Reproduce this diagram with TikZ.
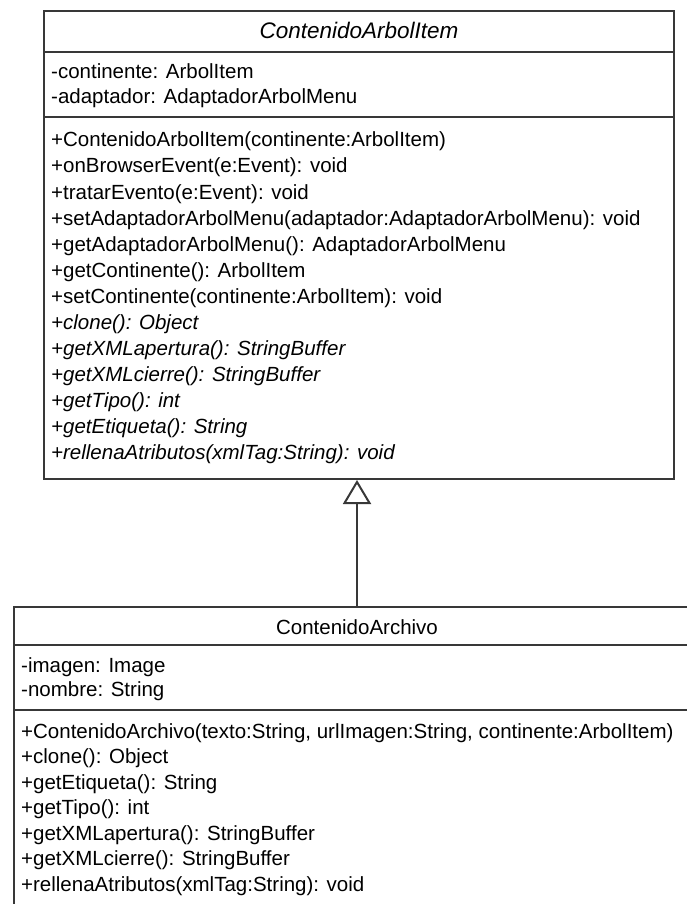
\documentclass[tikz,border=0pt]{standalone}
\usepackage{fontspec}
\setmainfont{Liberation Sans}
\usetikzlibrary{arrows.meta}
\begin{document}
\begin{tikzpicture}[x=1pt,y=-1pt,
  umlline/.style={draw=black!78, line width=2pt},
  classbox/.style={umlline, fill=white, rectangle, inner sep=0pt, anchor=north west},
  member/.style={anchor=base west, inner sep=0pt, text=black, font=\fontsize{20.5}{24}\selectfont},
  abstractmember/.style={member, font=\fontsize{20.5}{24}\selectfont\itshape},
  classname/.style={anchor=base, inner sep=0pt, text=black, font=\fontsize{20.5}{24}\selectfont}]
\useasboundingbox (0,0) rectangle (687,904);
\clip (0,0) rectangle (687,904);

% abstract superclass
\node[classbox, minimum width=630pt, minimum height=468pt] (sup) at (43,10) {};
\draw[umlline] (sup.west |- 0,52) -- (sup.east |- 0,52);
\draw[umlline] (sup.west |- 0,117) -- (sup.east |- 0,117);
\node[classname, font=\fontsize{22.5}{26}\selectfont\itshape] (supname) at (359,39) {ContenidoArbolItem};
\node[member] (sa1) at (51,79) {-continente: ArbolItem};
\node[member] (sa2) at (51,104) {-adaptador: AdaptadorArbolMenu};
\node[member] (sm1) at (51,147) {+ContenidoArbolItem(continente:ArbolItem)};
\node[member] (sm2) at (51,173) {+onBrowserEvent(e:Event): void};
\node[member] (sm3) at (51,199) {+tratarEvento(e:Event): void};
\node[member] (sm4) at (51,225) {+setAdaptadorArbolMenu(adaptador:AdaptadorArbolMenu): void};
\node[member] (sm5) at (51,251) {+getAdaptadorArbolMenu(): AdaptadorArbolMenu};
\node[member] (sm6) at (51,277) {+getContinente(): ArbolItem};
\node[member] (sm7) at (51,303) {+setContinente(continente:ArbolItem): void};
\node[abstractmember] (sm8) at (51,329) {+clone(): Object};
\node[abstractmember] (sm9) at (51,355) {+getXMLapertura(): StringBuffer};
\node[abstractmember] (sm10) at (51,381) {+getXMLcierre(): StringBuffer};
\node[abstractmember] (sm11) at (51,407) {+getTipo(): int};
\node[abstractmember] (sm12) at (51,433) {+getEtiqueta(): String};
\node[abstractmember] (sm13) at (51,459) {+rellenaAtributos(xmlTag:String): void};

% subclass (runs on past the right and bottom edges)
\node[classbox, minimum width=690pt, minimum height=340pt] (sub) at (13,606) {};
\draw[umlline] (sub.west |- 0,645) -- (sub.east |- 0,645);
\draw[umlline] (sub.west |- 0,710) -- (sub.east |- 0,710);
\node[classname] (subname) at (357,634) {ContenidoArchivo};
\node[member] (ba1) at (21,672) {-imagen: Image};
\node[member] (ba2) at (21,696) {-nombre: String};
\node[member] (bm1) at (21,738) {+ContenidoArchivo(texto:String, urlImagen:String, continente:ArbolItem)};
\node[member] (bm2) at (21,763.5) {+clone(): Object};
\node[member] (bm3) at (21,789) {+getEtiqueta(): String};
\node[member] (bm4) at (21,814.5) {+getTipo(): int};
\node[member] (bm5) at (21,840) {+getXMLapertura(): StringBuffer};
\node[member] (bm6) at (21,865.5) {+getXMLcierre(): StringBuffer};
\node[member] (bm7) at (21,891) {+rellenaAtributos(xmlTag:String): void};

% generalization
\coordinate (genx) at (357,0);
\draw[umlline, -{Triangle[open, length=24pt, width=28pt, fill=white]}]
  (sub.north -| genx) -- (sup.south -| genx);
\end{tikzpicture}
\end{document}
